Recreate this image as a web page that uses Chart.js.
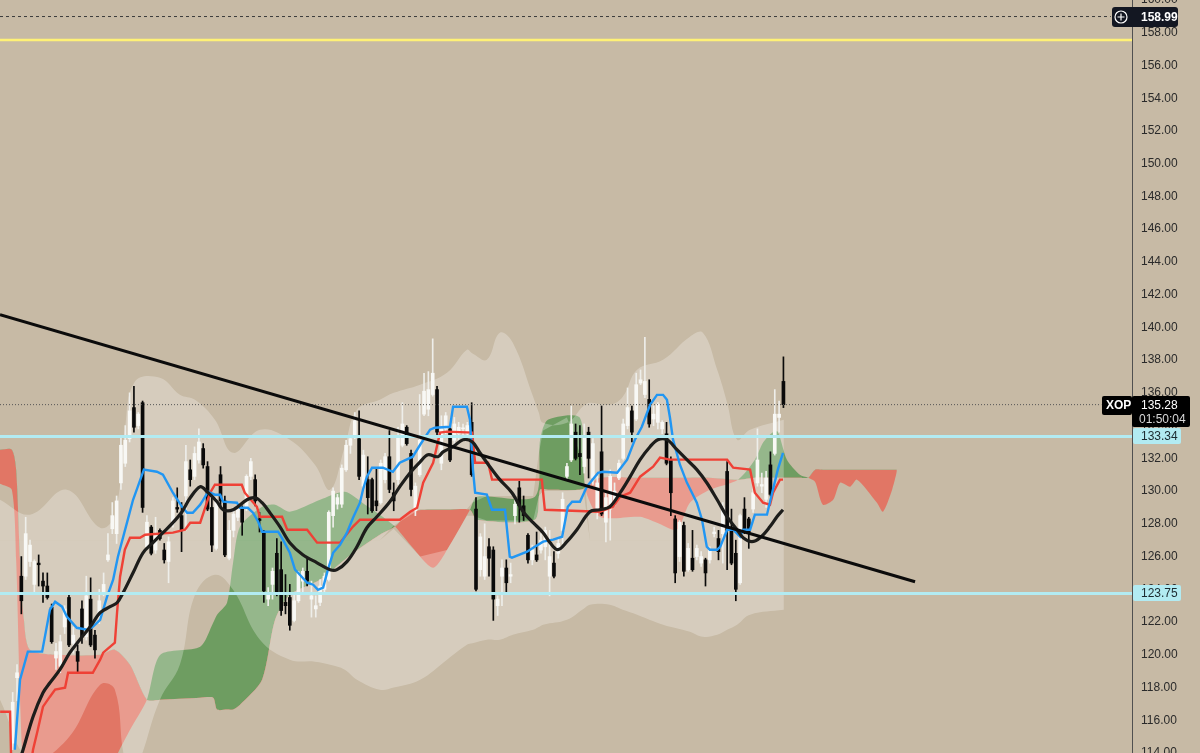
<!DOCTYPE html>
<html>
<head>
<meta charset="utf-8">
<title>XOP</title>
<script src="https://cdn.jsdelivr.net/npm/chart.js@4.4.1/dist/chart.umd.min.js"></script>
<style>
    html, body { margin: 0; padding: 0; background: #c7baa5; overflow: hidden; }
    #wrap { width: 1200px; height: 753px; }
</style>
</head>
<body>
<div id="wrap"><canvas id="chart" width="1200" height="753"></canvas></div>
<script>
(function () {
    'use strict';

    // --- Data ---

    const symbol = 'XOP';
    const countdown = '01:50:04';
    const alertLevel = 158.99;
    const yellowLevel = 157.56;
    const lastPrice = 135.28;
    const supportLevels = [133.34, 123.75];
    const priceTicks = [114, 116, 118, 120, 122, 124, 126, 128, 130, 132, 134, 136,
        138, 140, 142, 144, 146, 148, 150, 152, 154, 156, 158, 160];

    // daily candles, one per bar index
    const opens = [114.6, 118.6, 124.8, 124.8, 125.7, 124.3, 125.6, 124.5, 124.2, 122.9,
        119.8, 119.3, 121.7, 123.5, 120.7, 120.2, 122.8, 121.1, 123.4, 121.2,
        122.3, 123.8, 125.8, 127.7, 127.4, 130.5, 131.7, 133.2, 135.1, 134.0,
        135.4, 126.6, 127.8, 126.4, 127.6, 126.4, 125.7, 128.0, 129.0, 128.5,
        129.7, 131.3, 130.9, 131.9, 132.6, 131.5, 129.0, 126.5, 131.0, 129.4,
        125.9, 127.6, 128.4, 128.9, 129.0, 130.9, 130.7, 128.3, 127.5, 123.4,
        124.3, 126.2, 125.2, 123.2, 123.5, 122.1, 123.3, 124.5, 125.1, 123.4,
        122.8, 123.2, 124.0, 124.6, 128.5, 129.2, 129.2, 131.3, 132.8, 133.3,
        133.2, 130.3, 130.7, 130.7, 129.4, 129.3, 130.7, 132.1, 129.9, 130.7,
        132.8, 133.9, 132.3, 128.8, 131.0, 134.7, 135.0, 135.9, 136.2, 131.7,
        133.8, 133.8, 133.1, 133.5, 133.8, 133.5, 134.2, 128.9, 125.2, 124.8,
        126.6, 126.4, 123.0, 124.8, 125.3, 124.8, 128.5, 130.2, 129.1, 127.3,
        125.8, 126.1, 126.4, 126.6, 124.8, 125.6, 126.2, 127.6, 130.9, 131.9,
        133.6, 132.3, 131.5, 133.6, 130.8, 128.9, 132.4, 128.1, 128.9, 129.3,
        130.8, 132.0, 134.0, 134.9, 134.4, 136.6, 135.9, 135.6, 134.4, 134.2,
        133.8, 133.5, 131.9, 128.3, 126.0, 127.9, 125.2, 125.9, 126.0, 125.6,
        125.8, 125.8, 127.4, 127.1, 127.4, 131.2, 127.8, 126.2, 124.4, 128.9,
        128.3, 128.9, 130.5, 130.3, 129.5, 131.6, 132.3, 134.5, 136.7];
    const highs = [117.7, 119.4, 126.0, 128.4, 127.0, 125.8, 126.1, 125.0, 125.0, 123.1,
        120.7, 121.2, 123.0, 123.7, 121.7, 120.6, 123.3, 124.8, 124.7, 121.5,
        124.0, 125.0, 127.4, 129.3, 129.7, 133.3, 134.0, 136.0, 136.4, 134.8,
        135.5, 128.5, 127.9, 128.4, 127.7, 126.8, 127.2, 129.6, 130.2, 129.3,
        132.8, 131.9, 132.7, 133.8, 132.9, 131.8, 129.6, 129.6, 131.5, 129.7,
        128.2, 129.0, 129.3, 129.1, 131.0, 132.0, 131.0, 128.7, 127.6, 124.1,
        125.3, 127.1, 126.9, 124.9, 124.3, 123.8, 125.1, 125.3, 125.9, 124.5,
        123.6, 124.6, 125.0, 128.8, 130.2, 129.8, 131.6, 133.1, 133.3, 134.8,
        134.9, 132.5, 132.1, 130.8, 131.4, 131.9, 132.3, 133.7, 130.5, 133.9,
        135.4, 134.0, 132.5, 130.5, 135.9, 137.2, 137.3, 139.3, 136.4, 134.6,
        134.8, 134.0, 134.5, 134.2, 134.1, 134.2, 135.4, 129.6, 127.4, 128.0,
        127.1, 126.6, 123.6, 125.8, 125.8, 125.6, 129.5, 130.6, 129.7, 127.4,
        126.7, 127.5, 127.4, 127.8, 127.6, 126.3, 127.1, 129.9, 131.7, 135.2,
        134.1, 134.0, 134.1, 133.9, 133.2, 130.9, 135.2, 129.9, 131.3, 130.5,
        131.9, 134.4, 136.3, 135.2, 137.2, 137.4, 139.4, 136.8, 135.2, 135.4,
        134.3, 134.2, 132.1, 128.5, 128.2, 128.1, 126.8, 127.6, 126.7, 126.3,
        125.9, 126.6, 127.8, 127.6, 129.3, 131.8, 128.9, 127.0, 128.6, 129.6,
        128.4, 130.6, 133.8, 131.1, 131.2, 132.4, 136.2, 135.5, 138.2];
    const lows = [114.2, 117.2, 122.5, 124.6, 125.4, 123.8, 124.2, 123.2, 123.4, 120.7,
        119.1, 118.9, 121.3, 120.5, 120.1, 118.9, 120.7, 120.9, 120.5, 119.8,
        121.9, 123.6, 125.7, 127.4, 126.8, 130.1, 131.5, 133.0, 133.6, 133.8,
        128.7, 126.5, 126.1, 126.2, 127.0, 125.6, 124.4, 127.8, 128.7, 126.3,
        127.6, 130.3, 130.7, 131.7, 131.4, 128.8, 126.3, 126.4, 129.1, 126.0,
        125.8, 127.2, 128.2, 127.3, 128.8, 130.7, 129.1, 127.5, 123.2, 123.0,
        123.4, 123.6, 122.4, 122.5, 121.5, 122.0, 123.2, 123.8, 124.2, 122.3,
        122.3, 123.0, 123.8, 124.5, 127.8, 128.9, 129.0, 131.2, 132.3, 133.2,
        130.7, 130.1, 128.6, 128.7, 128.8, 129.2, 130.5, 129.9, 128.8, 130.4,
        132.7, 132.8, 129.7, 128.5, 130.9, 134.6, 134.6, 135.8, 133.4, 131.3,
        133.5, 131.8, 132.8, 133.1, 133.1, 133.3, 130.9, 123.9, 124.8, 124.6,
        124.8, 122.1, 122.4, 123.0, 123.8, 124.4, 128.0, 128.1, 128.2, 125.6,
        125.5, 125.7, 126.2, 125.8, 123.6, 124.7, 125.9, 126.8, 130.7, 131.8,
        131.9, 131.0, 131.1, 130.8, 130.4, 128.3, 128.5, 126.9, 127.0, 129.1,
        130.7, 131.9, 133.8, 133.0, 134.3, 136.5, 135.7, 133.9, 134.0, 133.8,
        133.5, 131.6, 128.5, 124.4, 125.7, 124.8, 125.1, 125.1, 125.8, 125.4,
        124.2, 125.6, 127.2, 125.8, 125.6, 125.2, 125.5, 123.3, 124.3, 127.4,
        126.5, 128.7, 130.3, 129.9, 129.0, 129.7, 132.2, 133.6, 135.1];
    const closes = [117.1, 118.9, 123.3, 127.4, 126.7, 125.7, 125.5, 124.2, 123.5, 120.8,
        120.2, 120.8, 122.8, 120.6, 121.2, 119.6, 121.1, 123.6, 120.6, 120.3,
        123.3, 124.3, 126.1, 128.5, 129.4, 132.8, 133.1, 134.9, 133.9, 134.7,
        129.0, 128.1, 126.2, 127.4, 127.1, 125.8, 126.9, 129.4, 128.9, 127.6,
        131.8, 130.7, 132.3, 133.0, 131.6, 128.9, 126.7, 129.4, 129.4, 126.1,
        127.6, 128.6, 128.9, 128.1, 130.9, 131.8, 129.4, 128.2, 123.9, 123.8,
        125.1, 123.8, 122.7, 123.0, 121.8, 123.3, 125.0, 125.1, 124.5, 123.6,
        123.0, 124.2, 124.8, 128.7, 130.0, 129.6, 131.4, 132.8, 133.2, 134.3,
        130.9, 132.2, 129.6, 128.8, 129.1, 131.7, 132.1, 130.1, 129.4, 133.3,
        134.1, 132.9, 130.1, 130.3, 133.1, 136.1, 136.2, 137.2, 133.6, 133.8,
        134.6, 131.9, 134.1, 133.9, 133.85, 134.0, 131.0, 124.0, 127.2, 126.0,
        125.9, 123.4, 123.4, 125.3, 124.4, 124.9, 129.2, 129.1, 128.5, 125.8,
        126.4, 125.8, 127.0, 127.6, 126.0, 124.8, 126.8, 129.5, 131.5, 134.1,
        132.0, 132.1, 133.4, 132.0, 132.9, 130.5, 128.6, 129.6, 130.9, 130.0,
        131.7, 134.1, 135.1, 133.6, 136.5, 136.8, 136.7, 134.1, 134.7, 135.3,
        134.2, 131.7, 129.9, 125.0, 128.1, 125.1, 126.5, 125.2, 126.5, 126.0,
        125.0, 126.4, 127.5, 126.3, 129.0, 127.6, 125.6, 124.0, 128.5, 127.6,
        127.5, 129.9, 131.9, 130.4, 130.8, 129.8, 134.7, 134.7, 135.28];

    // conversion line (blue)
    const tenkanX = [0.5, 1.7, 3.5, 6.8, 8.6, 9.8, 11.4, 12.5, 14.8, 17.2, 18.5, 20.2, 21.8, 23.2,
        24.3, 26.4, 27.8, 28.9, 30.3, 33.3, 34.7, 37.0, 39.1, 40.3, 41.6, 43.3, 44.0, 45.1, 46.7,
        47.9, 48.6, 51.8, 52.5, 54.3, 55.5, 56.7, 57.6, 61.3, 62.4, 64.0, 65.2, 65.9, 68.0, 69.4,
        70.5, 71.7, 72.8, 74.0, 75.6, 77.2, 78.6, 80.2, 80.9, 81.8, 83.0, 85.5, 87.8, 89.4, 92.4,
        94.1, 96.4, 97.5, 101.0, 101.7, 104.9, 105.6, 106.3, 106.8, 109.5, 110.7, 113.7, 114.8,
        115.3, 118.8, 120.2, 122.5, 124.8, 126.9, 128.2, 129.2, 131.0, 132.6, 135.2, 136.3, 139.6,
        141.9, 143.7, 145.3, 147.2, 148.8, 150.2, 151.1, 151.8, 152.5, 154.1, 155.7, 158.0, 159.2,
        160.3, 161.0, 162.7, 163.4, 165.0, 166.4, 168.0, 168.7, 170.3, 171.4, 174.2, 175.4, 176.7, 177.9];
    const tenkanY = [114.2, 118.48, 120.19, 120.19, 122.75, 123.24, 122.94, 122.33, 121.65, 121.53,
        121.71, 122.14, 123.55, 124.59, 125.99, 128.07, 129.47, 130.27, 131.31, 131.18, 131.0, 129.9,
        129.04, 128.68, 128.68, 129.17, 129.47, 129.96, 129.78, 129.78, 129.35, 129.29, 128.98, 128.98,
        128.68, 128.13, 127.52, 127.52, 127.03, 126.23, 125.2, 125.01, 124.4, 124.28, 123.97, 124.1,
        125.2, 126.23, 126.72, 127.46, 128.37, 129.29, 130.08, 130.88, 131.43, 131.43, 131.18, 131.73,
        132.1, 132.83, 133.75, 133.87, 133.93, 135.15, 135.15, 134.36, 131.31, 129.9, 129.78, 128.86,
        128.86, 125.99, 125.93, 126.3, 126.54, 126.91, 127.03, 127.21, 129.04, 129.35, 129.35, 130.27,
        131.12, 131.18, 131.12, 131.92, 133.14, 133.93, 135.27, 135.88, 135.88, 135.58, 134.48, 133.14,
        131.61, 130.52, 129.29, 128.25, 126.6, 126.42, 126.42, 126.6, 127.64, 127.64, 127.21, 127.64,
        127.64, 128.56, 128.56, 129.9, 131.31, 132.34];

    // base line (red)
    const kijunX = [-2.9, -0.6, -0.3, 4.2, 4.7, 5.8, 7.0, 8.6, 9.8, 12.1, 12.8, 18.5, 20.2, 20.9,
        23.6, 24.1, 24.8, 25.9, 27.1, 29.4, 30.6, 37.0, 39.8, 41.0, 43.3, 45.6, 46.7, 52.9, 53.6,
        56.4, 57.1, 62.2, 63.4, 68.0, 70.3, 75.6, 78.6, 80.2, 89.4, 91.8, 93.4, 94.8, 97.1, 98.7,
        100.3, 106.1, 106.8, 109.8, 110.7, 122.2, 122.9, 135.6, 138.6, 140.3, 142.6, 144.9, 147.9,
        149.5, 151.8, 165.0, 166.4, 170.3, 171.4, 173.3, 174.9, 175.6, 177.2, 177.9];
    const kijunY = [116.52, 116.52, 113.0, 113.3, 114.2, 115.42, 116.83, 117.44, 117.87, 117.99,
        118.9, 118.9, 119.7, 120.13, 120.74, 122.57, 124.77, 126.42, 127.15, 127.15, 127.33, 127.46,
        127.64, 128.07, 128.07, 129.9, 130.39, 130.39, 129.9, 129.04, 128.43, 128.43, 127.64, 127.64,
        126.85, 126.85, 127.83, 128.25, 128.25, 128.74, 128.98, 130.51, 131.73, 133.57, 133.63,
        133.57, 131.73, 131.73, 130.7, 130.7, 128.86, 128.74, 129.04, 129.66, 129.9, 130.88, 131.49,
        132.04, 131.92, 131.92, 131.43, 131.31, 129.9, 129.29, 129.17, 129.9, 130.7, 130.7];

    // moving average (black)
    const maX = [0.5, 2.4, 4.7, 7.0, 8.6, 10.9, 13.2, 15.5, 17.9, 20.2, 22.5, 24.1, 25.5, 27.8,
        30.1, 32.4, 34.7, 37.0, 39.1, 41.0, 43.3, 44.9, 47.2, 48.6, 50.9, 54.1, 56.0, 57.6, 59.4,
        61.7, 64.0, 67.0, 70.3, 73.3, 74.9, 77.2, 79.5, 81.8, 84.1, 87.1, 89.4, 91.8, 94.1, 95.9,
        98.2, 99.4, 101.7, 104.0, 106.1, 107.9, 110.2, 112.5, 115.3, 117.9, 120.2, 122.5, 124.1,
        125.9, 128.0, 130.3, 133.3, 135.6, 137.9, 140.3, 142.6, 144.9, 147.2, 149.0, 151.1, 153.4,
        155.7, 158.0, 160.3, 162.7, 165.0, 167.3, 168.7, 170.7, 172.6, 174.9, 176.5, 177.9];
    const maY = [112.6, 114.2, 116.22, 117.68, 118.29, 119.09, 120.13, 120.92, 121.71, 122.57,
        122.94, 123.18, 123.79, 125.01, 126.23, 126.85, 127.46, 128.07, 128.74, 129.59, 130.27,
        129.96, 129.35, 128.86, 128.86, 129.47, 129.59, 129.29, 128.68, 127.83, 126.85, 126.11,
        125.62, 125.2, 125.2, 125.69, 126.6, 127.76, 128.43, 129.35, 130.27, 131.12, 131.79, 132.22,
        132.1, 132.4, 132.71, 133.14, 133.02, 132.34, 131.49, 130.7, 129.9, 128.74, 128.07, 127.46,
        126.85, 126.42, 126.91, 127.64, 128.74, 128.86, 129.04, 129.9, 130.88, 131.92, 132.71,
        133.14, 133.14, 132.53, 131.92, 131.31, 130.51, 129.47, 128.43, 127.64, 127.15, 126.91,
        127.15, 127.83, 128.43, 128.86];

    // cloud, leading spans as displayed (shifted forward)
    const cloudX = [-2.93, -0.2, 0.8, 1.7, 2.6, 4.0, 10.9, 20.2, 23.6, 27.1, 31.0, 34.1, 43.3, 46.3,
        47.2, 49.5, 50.9, 52.5, 57.6, 60.6, 64.0, 71.0, 76.7, 81.4, 84.8, 88.3, 91.8, 97.1, 101.0,
        105.6, 107.2, 120.6, 121.8, 123.6, 131.0, 132.2, 135.6, 144.9, 148.8, 153.4, 156.4, 161.0,
        167.5, 171.4, 173.3, 175.4, 176.7, 178.8, 181.8, 183.7, 185.3, 187.1, 189.5, 191.1, 193.4,
        195.0, 199.6, 201.0, 203.1, 204.2];
    const spanA = [130.45, 130.08, 125.81, 117.26, 112.4, 111.15, 111.15, 111.15, 113.59, 115.42,
        117.26, 120.0, 120.49, 121.96, 122.45, 123.18, 125.62, 127.83, 129.04, 129.17, 128.74, 129.47,
        129.96, 129.17, 128.56, 127.83, 126.72, 125.32, 126.72, 128.86, 129.66, 129.66, 133.14, 134.36,
        134.48, 130.21, 128.43, 128.43, 128.07, 127.64, 129.29, 130.08, 130.7, 131.92, 132.97, 133.57,
        133.63, 131.92, 131.0, 130.82, 130.57, 129.17, 129.47, 130.51, 130.27, 130.7, 129.29, 128.74,
        130.08, 131.19];
    const spanB = [132.53, 132.53, 131.31, 125.81, 122.14, 120.31, 120.0, 120.0, 120.31, 119.39,
        117.26, 117.26, 117.38, 117.38, 116.65, 116.65, 116.65, 116.95, 118.48, 122.14, 123.67, 124.59,
        125.81, 126.73, 127.33, 127.83, 128.74, 128.86, 128.86, 128.86, 128.25, 128.25, 130.08, 130.08,
        130.08, 130.21, 130.82, 130.82, 130.82, 130.82, 130.82, 130.82, 130.7, 130.82, 130.82, 130.82,
        130.82, 130.82, 130.82, 130.82, 131.31, 131.31, 131.31, 131.31, 131.31, 131.31, 131.31, 131.31,
        131.31, 131.31];

    // light envelope band, with an uncovered gap hugging the middle clouds
    const bandX = [-2.93, 4.0, 12.5, 20.2, 23.6, 25.9, 28.2, 34.0, 38.6, 42.1, 46.7, 50.9, 57.1, 64.0,
        69.8, 73.3, 76.7, 79.5, 84.8, 88.0, 94.1, 100.3, 104.9, 106.2, 109.5, 112.5, 115.5, 120.2,
        121.5, 122.5, 128.0, 131.8, 133.3, 137.9, 140.9, 144.2, 150.2, 156.4, 159.4, 162.7, 165.0,
        167.3, 170.3, 178.1];
    const bandUpper = [129.47, 128.56, 130.08, 127.76, 128.56, 133.75, 136.68, 136.92, 135.89, 135.58,
        134.36, 132.34, 133.75, 133.14, 131.61, 130.08, 132.71, 134.97, 135.58, 136.0, 136.5, 137.23,
        138.63, 138.4, 138.02, 139.67, 139.06, 135.76, 134.8, 134.17, 134.17, 135.2, 135.4, 135.27,
        135.76, 137.41, 138.02, 139.43, 139.67, 137.41, 135.4, 133.14, 133.75, 134.36];
    const bandGapTop = [127, 127, 127, 127, 127, 127, 127, 127, 127, 127, 127, 127, 127, 127, 127, 127,
        127, 127, 127, 127.9, 128.9, 128.9, 128.9, 129.3, 129.7, 129.7, 129.7, 129.7, 132.3, 133.7,
        134.5, 131.7, 127, 127, 127, 127, 127, 127, 127, 127, 127, 127, 127, 127];
    const bandGapBottom = [127, 127, 127, 127, 127, 127, 127, 127, 127, 127, 127, 127, 127, 127, 127, 127,
        127, 127, 127, 127.7, 126.0, 126.4, 128.5, 128.5, 128.2, 128.2, 128.2, 128.2, 129.7, 130.0,
        130.0, 130.1, 127, 127, 127, 127, 127, 127, 127, 127, 127, 127, 127, 127];
    const bandLower = [117.26, 113.59, 114.81, 118.17, 117.87, 113.59, 112.98, 117.26, 119.39, 123.67,
        124.89, 123.97, 120.92, 119.7, 119.58, 119.39, 119.09, 118.48, 117.87, 118.0, 118.48, 119.7,
        120.61, 120.7, 120.92, 120.92, 121.22, 121.53, 121.7, 121.84, 122.14, 122.8, 123.06, 123.06,
        122.75, 122.45, 121.84, 121.41, 121.1, 121.22, 121.53, 121.84, 122.45, 122.75];

    // drawn trend line
    const trendX = [-2.93, 208.4];
    const trendY = [140.77, 124.46];

    // --- Chart ---

    const X_MIN = -2.93;
    const X_MAX = 258.5;
    const FONT = '"Liberation Sans", Arial, sans-serif';
    const BAND = 'rgba(255,255,255,0.27)';

    const zip = (xs, ys) => xs.map((x, i) => ({ x: x, y: ys[i] }));
    const isUp = opens.map((o, i) => closes[i] >= o);

    function levelLine(value, color, width, dash, xEnd) {
        return {
            type: 'line',
            data: [{ x: X_MIN, y: value }, { x: xEnd, y: value }],
            borderColor: color,
            borderWidth: width,
            borderDash: dash,
            pointRadius: 0,
            fill: false,
            order: 1,
        };
    }

    function edge(xs, ys, fill, tension) {
        return {
            type: 'line',
            data: zip(xs, ys),
            borderWidth: 0,
            pointRadius: 0,
            tension: tension,
            fill: fill,
        };
    }

    const background = {
        id: 'background',
        beforeDraw(chart) {
            const ctx = chart.ctx;
            ctx.save();
            ctx.fillStyle = '#c7baa5';
            ctx.fillRect(0, 0, chart.width, chart.height);
            ctx.restore();
        },
    };

    function box(ctx, x, y, w, h, r, color) {
        ctx.fillStyle = color;
        ctx.beginPath();
        ctx.roundRect(x, y, w, h, r);
        ctx.fill();
    }

    const axisLabels = {
        id: 'axisLabels',
        afterDraw(chart) {
            const ctx = chart.ctx;
            const y = chart.scales.y;
            const ax = y.left;
            ctx.save();
            ctx.textBaseline = 'middle';
            ctx.textAlign = 'left';

            // alert level with add button
            let py = Math.round(y.getPixelForValue(alertLevel));
            box(ctx, ax - 20, py - 10, 66, 20, 3, '#131722');
            ctx.strokeStyle = '#ffffff';
            ctx.lineWidth = 1.2;
            ctx.beginPath();
            ctx.arc(ax - 11, py, 6, 0, Math.PI * 2);
            ctx.stroke();
            ctx.beginPath();
            ctx.moveTo(ax - 14.5, py); ctx.lineTo(ax - 7.5, py);
            ctx.moveTo(ax - 11, py - 3.5); ctx.lineTo(ax - 11, py + 3.5);
            ctx.stroke();
            ctx.fillStyle = '#ffffff';
            ctx.font = 'bold 12px ' + FONT;
            ctx.fillText(alertLevel.toFixed(2), ax + 9, py + 1);

            // horizontal support/resistance labels
            ctx.font = '12px ' + FONT;
            supportLevels.forEach(v => {
                const p = Math.round(y.getPixelForValue(v));
                box(ctx, ax + 1, p - 8, 48, 16, 2, '#b2ebf2');
                ctx.fillStyle = '#1c2a30';
                ctx.fillText(v.toFixed(2), ax + 9, p + 1);
            });

            // last price with symbol and countdown
            py = Math.round(y.getPixelForValue(lastPrice));
            box(ctx, ax - 30, py - 9, 30, 19, 2, '#000000');
            box(ctx, ax, py - 9, 58, 31, 2, '#000000');
            ctx.fillStyle = '#ffffff';
            ctx.font = 'bold 12px ' + FONT;
            ctx.fillText(symbol, ax - 26, py + 1);
            ctx.font = '12px ' + FONT;
            ctx.fillText(lastPrice.toFixed(2), ax + 9, py + 1);
            ctx.fillStyle = '#d8d8d8';
            ctx.fillText(countdown, ax + 7, py + 15);
            ctx.restore();
        },
    };

    const bandTop = edge(bandX, bandUpper, { target: '+1', above: BAND, below: BAND }, 0.4);
    const bandTopInner = edge(bandX, bandGapTop, false, 0);
    const bandBottomInner = edge(bandX, bandGapBottom, { target: '+1', above: BAND, below: BAND }, 0);
    const bandBottom = edge(bandX, bandLower, false, 0.4);
    [bandTop, bandTopInner, bandBottomInner, bandBottom].forEach(d => { d.order = 5; });

    const cloudA = edge(cloudX, spanA, { target: '+1', above: 'rgba(76,145,70,0.72)', below: 'rgba(236,92,76,0.72)' }, 0.25);
    const cloudB = edge(cloudX, spanB, false, 0.25);
    cloudA.order = 6;
    cloudB.order = 6;

    const datasets = [
        // trend line on top
        {
            type: 'line',
            data: zip(trendX, trendY),
            borderColor: '#0b0b0b',
            borderWidth: 3,
            pointRadius: 0,
            fill: false,
            order: 0,
        },
        levelLine(alertLevel, '#3a3a3a', 1, [3, 3], 253.6),
        levelLine(yellowLevel, '#fff176', 2.5, [], X_MAX),
        levelLine(lastPrice, '#555555', 1, [1, 2], 251.4),
        levelLine(supportLevels[0], '#b2ebf2', 3, [], X_MAX),
        levelLine(supportLevels[1], '#b2ebf2', 3, [], X_MAX),
        {
            type: 'line',
            data: zip(maX, maY),
            borderColor: '#1d1d1b',
            borderWidth: 3.2,
            pointRadius: 0,
            tension: 0.35,
            fill: false,
            order: 2,
        },
        {
            type: 'line',
            data: zip(tenkanX, tenkanY),
            borderColor: '#2196f3',
            borderWidth: 2.4,
            pointRadius: 0,
            fill: false,
            order: 2,
        },
        {
            type: 'line',
            data: zip(kijunX, kijunY),
            borderColor: '#ef4136',
            borderWidth: 2.4,
            pointRadius: 0,
            fill: false,
            order: 2,
        },
        // candle bodies
        {
            type: 'bar',
            data: opens.map((o, i) => ({ x: i, y: [o, closes[i]] })),
            backgroundColor: isUp.map(u => (u ? '#f8f8f5' : '#0a0a0a')),
            borderWidth: 0,
            barThickness: 3,
            minBarLength: 1,
            grouped: false,
            order: 3,
        },
        // candle wicks
        {
            type: 'bar',
            data: highs.map((h, i) => ({ x: i, y: [lows[i], h] })),
            backgroundColor: isUp.map(u => (u ? '#eeeeea' : '#0a0a0a')),
            borderWidth: 0,
            barThickness: 1,
            grouped: false,
            order: 4,
        },
        bandTop,
        bandTopInner,
        bandBottomInner,
        bandBottom,
        cloudA,
        cloudB,
    ];

    new Chart(document.getElementById('chart'), {
        type: 'line',
        data: { datasets: datasets },
        options: {
            responsive: false,
            devicePixelRatio: 1,
            animation: false,
            events: [],
            layout: { padding: 0 },
            plugins: {
                legend: { display: false },
                tooltip: { enabled: false },
            },
            scales: {
                x: {
                    type: 'linear',
                    min: X_MIN,
                    max: X_MAX,
                    offset: false,
                    display: false,
                },
                y: {
                    type: 'linear',
                    position: 'right',
                    min: 114,
                    max: 160,
                    afterBuildTicks: (s) => { s.ticks = priceTicks.map(v => ({ value: v })); },
                    afterFit: (s) => { s.width = 68; s.paddingTop = 0; s.paddingBottom = 0; },
                    grid: { display: false, drawTicks: false },
                    border: { display: true, color: '#505050', width: 1 },
                    ticks: {
                        autoSkip: false,
                        padding: 9,
                        color: '#2a2a2a',
                        font: { family: FONT, size: 12 },
                        callback: (v) => Number(v).toFixed(2),
                    },
                },
            },
        },
        plugins: [background, axisLabels],
    });
})();
</script>
</body>
</html>
